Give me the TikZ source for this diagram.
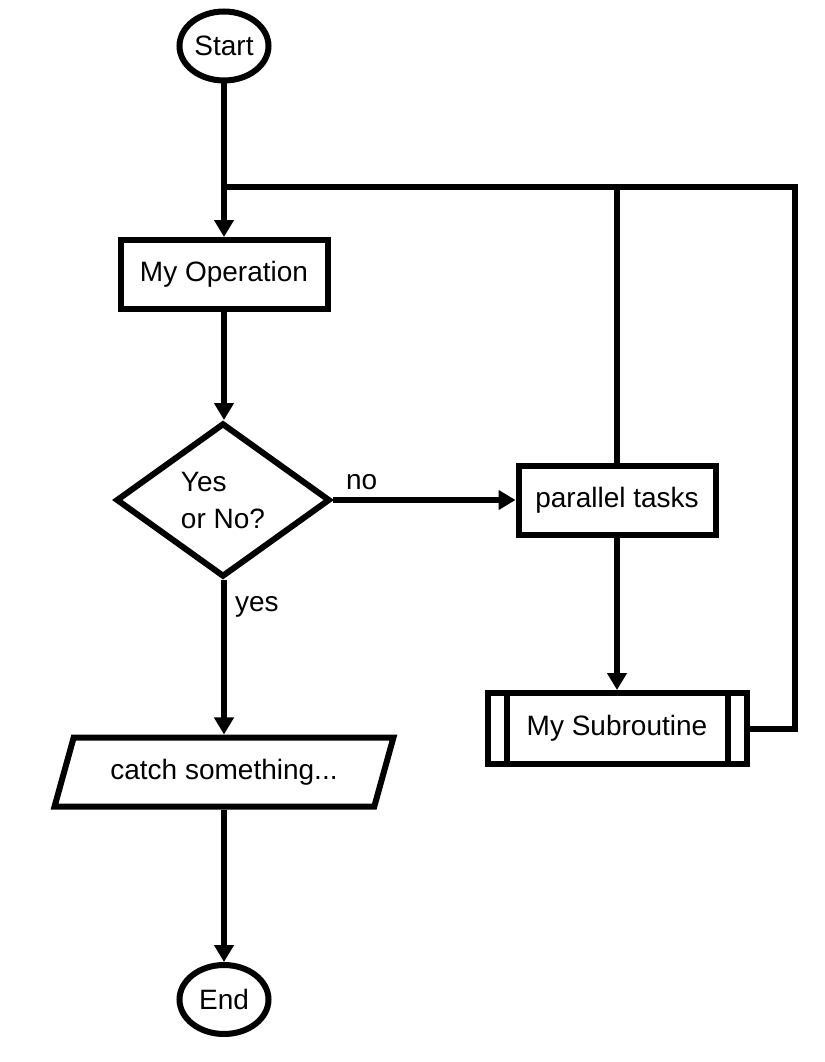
\documentclass[tikz,border=0pt]{standalone}
\usepackage{fontspec}
\setmainfont{Liberation Sans}
\usetikzlibrary{arrows.meta,shapes.geometric}
\begin{document}
\begin{tikzpicture}[x=1pt,y=-1pt,line width=6pt,
    every node/.style={font=\fontsize{28}{37}\selectfont},
    term/.style={draw,ellipse,inner sep=0,minimum width=89pt,minimum height=69pt},
    box/.style={draw,rectangle,inner sep=0,minimum width=#1,minimum height=69pt},
    arr/.style={-{Triangle[length=17pt,width=19pt]}}]
\useasboundingbox (0,0) rectangle (824,1062);
\node[term] (start) at (224,46) {Start};
\node[box=207pt] (op) at (224,274.5) {My Operation};
\node[draw,diamond,inner sep=0,minimum width=214pt,minimum height=154pt,align=left] (test) at (223,500) {Yes\\or No?};
\node[box=197pt] (par) at (617,500) {parallel tasks};
\node[box=259pt,minimum height=71pt] (sub) at (617,728.5) {My Subroutine};
\foreach \s in {1,-1}{
    \draw ([xshift=\s*22pt]sub.north \ifnum\s=1 west\else east\fi) -- ([xshift=\s*22pt]sub.south \ifnum\s=1 west\else east\fi);
}
\node[draw,trapezium,trapezium left angle=61,trapezium right angle=119,trapezium stretches=true,
    inner sep=0,minimum width=340pt,minimum height=69pt] (catch) at (224,772) {catch something...};
\node[term] (stop) at (224,999.5) {End};
\coordinate (j) at (224,187);
\foreach \a/\b in {start/op,par/sub,catch/stop}{
    \draw[arr] (\a) -- (\b);
}
\draw[arr] (op) -- (op |- test.north);
\draw[arr] (test) -- node[pos=0,anchor=base west,inner sep=0,xshift=10pt,yshift=11pt]{no} (par);
\draw[arr] (test.south -| catch) -- node[pos=0,anchor=base west,inner sep=0,xshift=8pt,yshift=-31pt]{yes} (catch);
\draw (par.north) -- (par.north |- j);
\draw (sub.east) -- ++(45,0) |- (j);
\end{tikzpicture}
\end{document}
